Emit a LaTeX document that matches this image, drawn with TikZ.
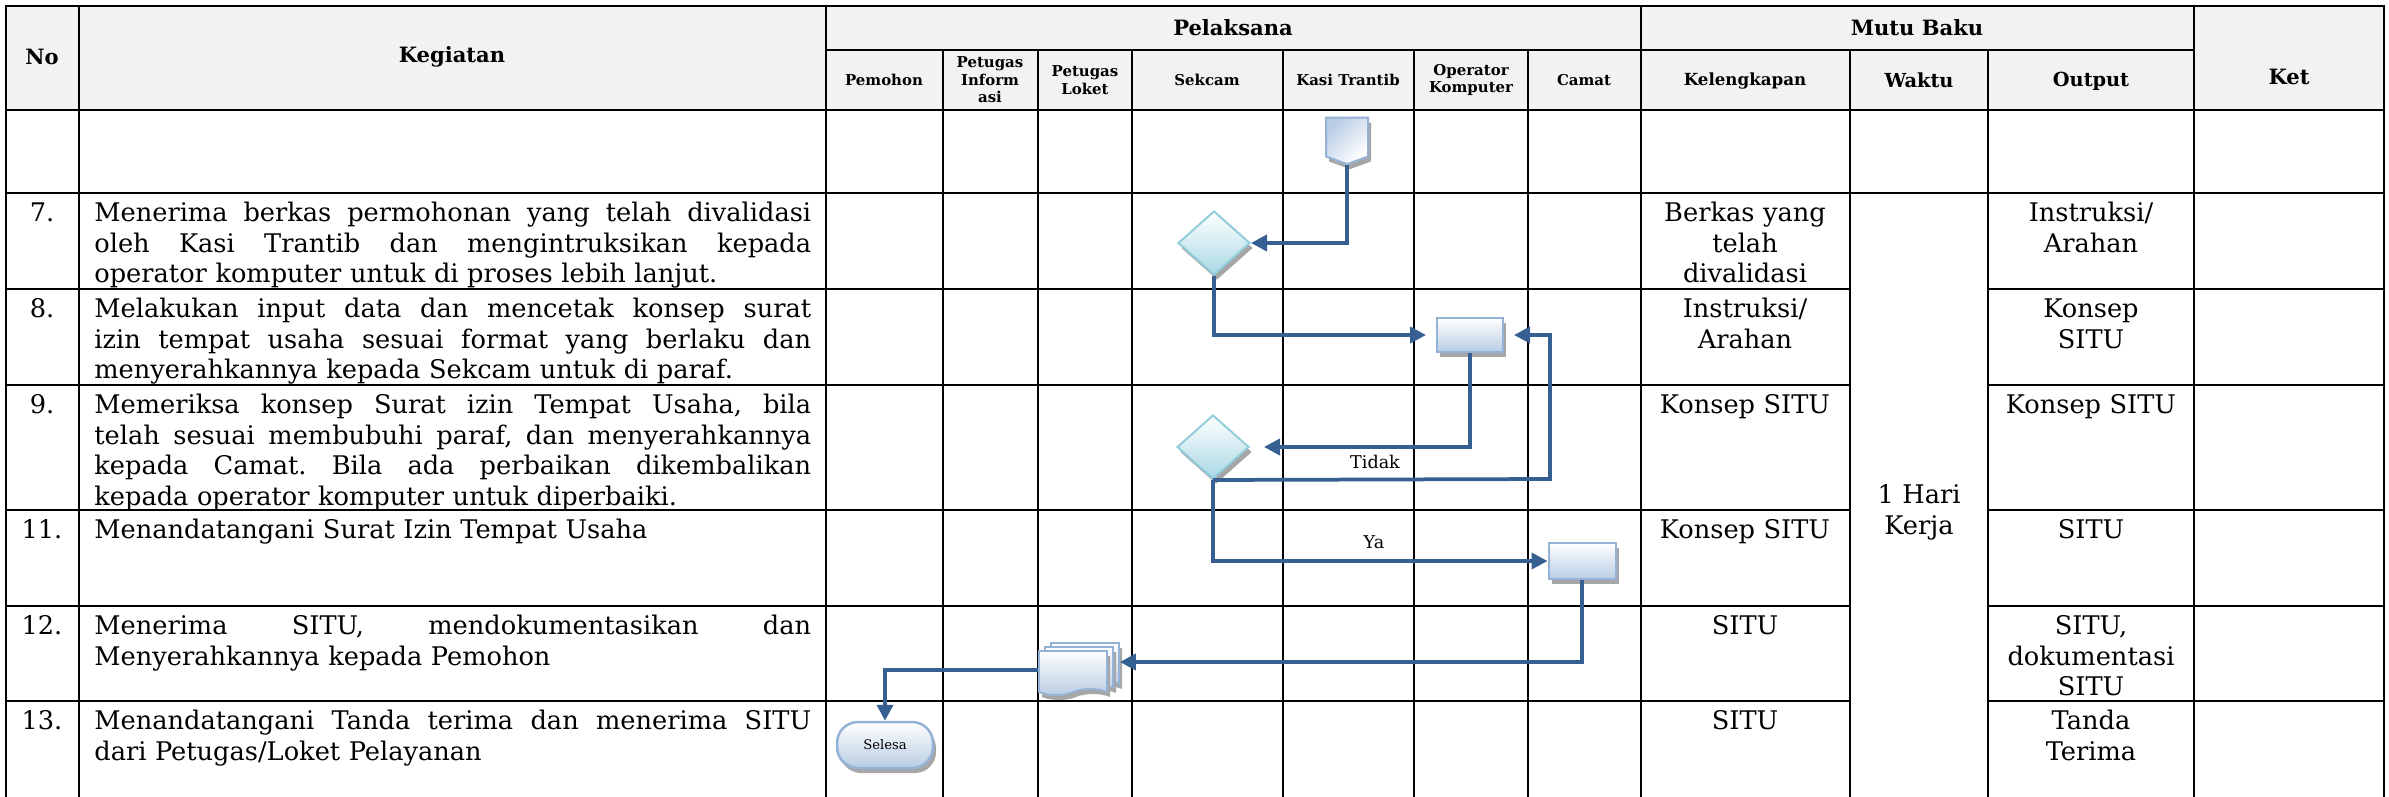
\documentclass[tikz,border=0pt]{standalone}
\usepackage{fontspec}
\setmainfont{DejaVu Serif}
\usetikzlibrary{arrows.meta,shapes.geometric,shapes.symbols,shadows,positioning}
\definecolor{flowblue}{HTML}{376092}
\definecolor{procline}{HTML}{95B3D7}
\definecolor{procfill}{HTML}{B8CCE4}
\definecolor{decline}{HTML}{92CDDC}
\definecolor{decfill}{HTML}{A9D8E4}
\definecolor{shadowgray}{HTML}{A6A6A6}
\definecolor{headgray}{HTML}{F2F2F2}
\newlength{\kegwidth}
\setlength{\kegwidth}{14.34cm}
\newcommand{\jline}[1]{\hbox to \kegwidth{\spaceskip=0pt\xspaceskip=0pt\frenchspacing #1}\par}
\tikzset{
  gridline/.style={line width=0.045cm, draw=black, line cap=rect},
  headtext/.style={font=\fontsize{12}{14}\selectfont\bfseries, align=center, inner sep=0pt},
  subhead/.style={font=\fontsize{8.5}{10}\selectfont\bfseries, align=center, inner sep=0pt},
  kegtext/.style={
    anchor=north west,
    text width=\kegwidth,
    inner sep=0pt,
    align=left,
    font=\fontsize{14.6}{17.4}\selectfont,
    execute at begin node=\strut
  },
  notext/.style={anchor=north, inner sep=0pt, font=\fontsize{14.6}{17.4}\selectfont, execute at begin node=\strut},
  mututext/.style={
    anchor=north,
    text width=3.9cm,
    inner sep=0pt,
    align=center,
    font=\fontsize{14.6}{17.4}\selectfont,
    execute at begin node=\strut
  },
  flowshadow/.style={drop shadow={shadow xshift=0.06cm, shadow yshift=-0.1cm, fill=shadowgray, opacity=1}},
  procbox/.style={
    rectangle,
    draw=procline,
    line width=0.04cm,
    top color=white,
    bottom color=procfill,
    minimum width=1.32cm,
    minimum height=0.7cm,
    inner sep=0pt,
    flowshadow
  },
  decbox/.style={
    diamond,
    draw=decline,
    line width=0.04cm,
    top color=white,
    bottom color=decfill,
    minimum width=1.44cm,
    minimum height=1.28cm,
    inner sep=0pt,
    flowshadow
  },
  docbox/.style={
    tape,
    tape bend top=none,
    tape bend bottom=in and out,
    tape bend height=0.12cm,
    draw=procline,
    line width=0.035cm,
    top color=white,
    bottom color=procfill,
    minimum width=1.36cm,
    minimum height=0.88cm,
    inner sep=0pt,
    flowshadow
  },
  pagebox/.style={
    signal,
    signal to=south,
    signal pointer angle=140,
    draw=procline,
    line width=0.04cm,
    top color=procfill,
    bottom color=white,
    shading angle=45,
    minimum width=0.84cm,
    minimum height=0.78cm,
    inner sep=0pt,
    flowshadow
  },
  endbox/.style={
    rectangle,
    rounded corners=0.42cm,
    draw=procline,
    line width=0.05cm,
    top color=white,
    bottom color=procfill,
    minimum width=1.92cm,
    minimum height=0.92cm,
    inner sep=0pt,
    font=\fontsize{7.5}{9}\selectfont,
    flowshadow
  },
  flowarrow/.style={
    -{Triangle[length=0.32cm,width=0.32cm]},
    line width=0.075cm,
    draw=flowblue
  },
  flowlabel/.style={font=\fontsize{10}{12}\selectfont, inner sep=0pt}
}

\begin{document}
\begin{tikzpicture}[x=0.02cm, y=-0.02cm]
    \useasboundingbox (0,0) rectangle (2389,797);

    % table frame
    \fill[headgray] (6,6) rectangle (2384,110);
    \draw[gridline] (6,6) -- (2384,6) (826,50) -- (2194,50) (6,110) -- (2384,110) (6,193) -- (2384,193);
    \draw[gridline] (6,289) -- (1850,289) (1988,289) -- (2384,289)
        (6,385) -- (1850,385) (1988,385) -- (2384,385)
        (6,510) -- (1850,510) (1988,510) -- (2384,510)
        (6,606) -- (1850,606) (1988,606) -- (2384,606)
        (6,701) -- (1850,701) (1988,701) -- (2384,701);
    \draw[gridline] (6,6) -- (6,797) (79,6) -- (79,797) (826,6) -- (826,797)
        (1641,6) -- (1641,797) (2194,6) -- (2194,797) (2384,6) -- (2384,797);
    \draw[gridline] (943,50) -- (943,797) (1038,50) -- (1038,797) (1132,50) -- (1132,797)
        (1283,50) -- (1283,797) (1414,50) -- (1414,797) (1528,50) -- (1528,797)
        (1850,50) -- (1850,797) (1988,50) -- (1988,797);

    % header
    \node[headtext] (hdrno) at (42,57) {No};
    \node[headtext] (hdrkeg) at (452,57) {Kegiatan};
    \node[headtext] (hdrpel) at (1233,28) {Pelaksana};
    \node[headtext] (hdrmutu) at (1917,28) {Mutu Baku};
    \node[headtext] (hdrket) at (2289,77) {Ket};
    \node[subhead] (hdrpemohon) at (884,80) {Pemohon};
    \node[subhead] (hdrinfo) at (990,80) {Petugas\\Inform\\asi};
    \node[subhead] (hdrloket) at (1085,80) {Petugas\\Loket};
    \node[subhead] (hdrsekcam) at (1207,80) {Sekcam};
    \node[subhead] (hdrkasi) at (1348,80) {Kasi Trantib};
    \node[subhead] (hdroperator) at (1471,80) {Operator\\Komputer};
    \node[subhead] (hdrcamat) at (1584,80) {Camat};
    \node[subhead, font=\fontsize{9.5}{11}\selectfont\bfseries] (hdrkel) at (1745,81) {Kelengkapan};
    \node[headtext, font=\fontsize{11}{13}\selectfont\bfseries] (hdrwaktu) at (1919,80) {Waktu};
    \node[headtext, font=\fontsize{11}{13}\selectfont\bfseries] (hdroutput) at (2091,81) {Output};

    % rows
    \node[notext] (no7) at (42,200) {7.};
    \node[kegtext] (keg7) at (94,200) {\jline{Menerima berkas permohonan yang telah divalidasi}\jline{oleh Kasi Trantib dan mengintruksikan kepada}operator komputer untuk di proses lebih lanjut.};
    \node[notext] (no8) at (42,296) {8.};
    \node[kegtext] (keg8) at (94,296) {\jline{Melakukan input data dan mencetak konsep surat}\jline{izin tempat usaha sesuai format yang berlaku dan}menyerahkannya kepada Sekcam untuk di paraf.};
    \node[notext] (no9) at (42,392) {9.};
    \node[kegtext] (keg9) at (94,392) {\jline{Memeriksa konsep Surat izin Tempat Usaha, bila}\jline{telah sesuai membubuhi paraf, dan menyerahkannya}\jline{kepada Camat. Bila ada perbaikan dikembalikan}kepada operator komputer untuk diperbaiki.};
    \node[notext] (no11) at (42,517) {11.};
    \node[kegtext] (keg11) at (94,517) {Menandatangani Surat Izin Tempat Usaha};
    \node[notext] (no12) at (42,613) {12.};
    \node[kegtext] (keg12) at (94,613) {\jline{Menerima SITU, mendokumentasikan dan}Menyerahkannya kepada Pemohon};
    \node[notext] (no13) at (42,708) {13.};
    \node[kegtext] (keg13) at (94,708) {\jline{Menandatangani Tanda terima dan menerima SITU}dari Petugas/Loket Pelayanan};

    % mutu baku
    \node[mututext] (kel7) at (1745,200) {Berkas yang\\telah\\divalidasi};
    \node[mututext] (kel8) at (1745,296) {Instruksi/\\Arahan};
    \node[mututext] (kel9) at (1745,392) {Konsep SITU};
    \node[mututext] (kel11) at (1745,517) {Konsep SITU};
    \node[mututext] (kel12) at (1745,613) {SITU};
    \node[mututext] (kel13) at (1745,708) {SITU};
    \node[mututext, text width=2.4cm] (waktu) at (1919,482) {1 Hari\\Kerja};
    \node[mututext] (out7) at (2091,200) {Instruksi/\\Arahan};
    \node[mututext] (out8) at (2091,296) {Konsep\\SITU};
    \node[mututext] (out9) at (2091,392) {Konsep SITU};
    \node[mututext] (out11) at (2091,517) {SITU};
    \node[mututext] (out12) at (2091,613) {SITU,\\dokumentasi\\SITU};
    \node[mututext] (out13) at (2091,708) {Tanda\\Terima};

    % flow
    \node[pagebox] (page) at (1347,137) {};
    \node[decbox] (dec1) at (1214,243) {};
    \node[procbox] (proc1) at (1470,335) {};
    \node[decbox] (dec2) at (1213,447) {};
    \node[procbox, minimum width=1.34cm, minimum height=0.72cm] (proc2) at (1582,561) {};
    \node[docbox] (docc) at (1085,662) {};
    \node[docbox] (docb) at (1079,666) {};
    \node[docbox] (doca) at (1073,670) {};
    \node[endbox] (selesa) at (885,745) {Selesa};
    \coordinate (loop) at (1550,479);

    \draw[flowarrow] (page.south) |- (dec1.east);
    \draw[flowarrow, shorten >=0.2cm] (dec1.south) |- (proc1.west);
    \draw[flowarrow, shorten >=0.28cm] (proc1.south) |- (dec2.east);
    \draw[flowarrow, shorten >=0.2cm] (dec2.south) -- (loop) |- (proc1.east);
    \draw[flowarrow] (dec2.south) |- (proc2.west);
    \draw[flowarrow] (proc2.south) |- (docc.east);
    \draw[flowarrow] (doca.west) -| (selesa.north);

    \node[flowlabel] (tidak) at (1375,462) {Tidak};
    \node[flowlabel] (ya) at (1374,542) {Ya};
\end{tikzpicture}
\end{document}
